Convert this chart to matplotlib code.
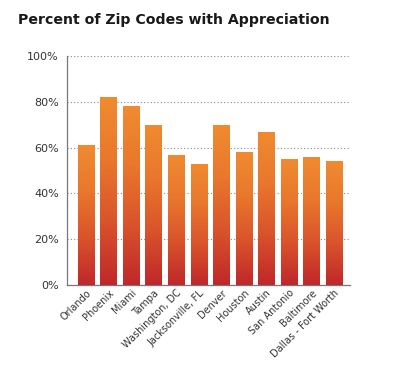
import numpy as np
import matplotlib
matplotlib.use("Agg")
import matplotlib.pyplot as plt
from matplotlib.colors import LinearSegmentedColormap

# data
cities = ["Orlando", "Phoenix", "Miami", "Tampa", "Washington, DC", "Jacksonville, FL",
          "Denver", "Houston", "Austin", "San Antonio", "Baltimore", "Dallas - Fort Worth"]
pct = [61, 82, 78, 70, 57, 53, 70, 58, 67, 55, 56, 54]
yticks = [0, 20, 40, 60, 80, 100]

fig = plt.figure(figsize=(3.99, 3.66), dpi=100)
ax = fig.add_axes([0.168, 0.221, 0.71, 0.626])

x = np.arange(len(cities))
bars = ax.bar(x, pct, width=0.71, color="none", zorder=3)

# orange (top) -> red (bottom) gradient inside each bar
cmap = LinearSegmentedColormap.from_list("grad", ["#c0272a", "#d9532b", "#e9772c", "#f08b30"])
grad = np.linspace(0, 1, 256).reshape(-1, 1)
for b in bars:
    x0, y0 = b.get_x(), b.get_y()
    im = ax.imshow(grad, cmap=cmap, origin="lower", aspect="auto",
                   extent=[x0, x0 + b.get_width(), y0, y0 + b.get_height()], zorder=3)
    im.set_clip_path(b)

ax.set_xlim(-0.83, 11.72)
ax.set_ylim(0, 100)
ax.set_yticks(yticks)
ax.set_yticklabels([f"{v}%" for v in yticks], fontsize=8, color="#333333")
ax.yaxis.grid(True, linestyle=(0, (1, 2)), color="#888888", linewidth=0.8, zorder=0)
ax.set_axisbelow(True)
ax.tick_params(axis="y", length=0, pad=6)
ax.tick_params(axis="x", length=0, pad=2)
ax.set_xticks(x)
ax.set_xticklabels(cities, rotation=45, ha="right", rotation_mode="anchor",
                   fontsize=7, color="#333333")

for s in ["top", "right"]:
    ax.spines[s].set_visible(False)
ax.spines["left"].set_color("#777777")
ax.spines["bottom"].set_color("#777777")
ax.spines["left"].set_linewidth(0.9)
ax.spines["bottom"].set_linewidth(0.9)

fig.text(0.045, 0.945, "Percent of Zip Codes with Appreciation", fontsize=10.2,
         fontweight="bold", color="#1a1a1a", va="center", ha="left")

fig.savefig("out.png", dpi=100)
